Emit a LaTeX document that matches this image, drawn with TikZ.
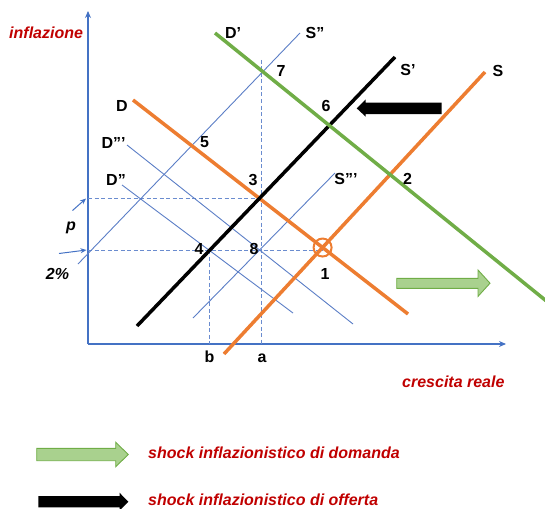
\documentclass[tikz,border=0pt]{standalone}
\usepackage{fontspec}
\setmainfont{Liberation Sans}
\usetikzlibrary{arrows.meta}
\definecolor{myorange}{HTML}{ED7D31}
\definecolor{mygreen}{HTML}{70AD47}
\definecolor{lightgreen}{HTML}{A9D18E}
\definecolor{axisblue}{HTML}{4472C4}
\definecolor{thinblue}{HTML}{5B7EC6}
\definecolor{dashblue}{HTML}{6A8CCF}
\definecolor{darkred}{HTML}{C00000}
\begin{document}
\begin{tikzpicture}[x=1pt,y=-1pt,
  thickline/.style={line width=3.5pt},
  thinline/.style={line width=0.9pt, thinblue},
  axisline/.style={line width=1.1pt, axisblue, -{Stealth[length=7pt,width=6pt]}},
  dashline/.style={line width=0.8pt, dashblue, dash pattern=on 4pt off 2.5pt},
  lbl/.style={font=\fontsize{16}{19}\selectfont\bfseries, inner sep=0pt, text=black},
  ilbl/.style={font=\fontsize{16}{19}\selectfont\bfseries\itshape, inner sep=0pt, text=black},
  redtxt/.style={font=\fontsize{16}{19}\selectfont\bfseries\itshape, inner sep=0pt, text=darkred, anchor=west},
  smallarrow/.style={line width=1pt, axisblue, -{Stealth[length=6pt,width=5pt]}}
]
\useasboundingbox (0,0) rectangle (545,508);
\clip (0,0) rectangle (545,508);

% axes
\coordinate (O) at (88,344);
\coordinate (Ytop) at (88,11);
\coordinate (Xend) at (506,344);
\draw[axisline] (O) -- (Ytop);
\draw[axisline] (O) -- (Xend);

% curve end points
\coordinate (Da) at (133,100);   \coordinate (Db) at (408,314);
\coordinate (Sa) at (224,354);   \coordinate (Sb) at (485,72);
\coordinate (S1a) at (137,326);  \coordinate (S1b) at (395,57);
\coordinate (D1a) at (215,33);   \coordinate (D1b) at (555,308);
\coordinate (S2a) at (78,264);   \coordinate (S2b) at (300,33);
\coordinate (S3a) at (193,318);  \coordinate (S3b) at (335,173);
\coordinate (D2a) at (122,185);  \coordinate (D2b) at (293,313);
\coordinate (D3a) at (127,145);  \coordinate (D3b) at (353,324);

% intersections
\coordinate (P1) at (intersection of Da--Db and Sa--Sb);
\coordinate (P3) at (intersection of Da--Db and S1a--S1b);
\coordinate (P4) at (intersection of D2a--D2b and S1a--S1b);
\coordinate (P8) at (intersection of D3a--D3b and S3a--S3b);
\coordinate (P7) at (intersection of D1a--D1b and S2a--S2b);
\coordinate (Atop) at (261,60);

% dashed guide lines
\draw[dashline] (O |- P3) -- (P3);
\draw[dashline] (O |- P8) -- (P1 |- P8);
\draw[dashline] (Atop) -- (Atop |- O);
\draw[dashline] (P4) -- (P4 |- O);

% thin blue curves
\draw[thinline] (S2a) -- (S2b);
\draw[thinline] (S3a) -- (S3b);
\draw[thinline] (D2a) -- (D2b);
\draw[thinline] (D3a) -- (D3b);

% thick curves
\draw[thickline, myorange] (Da) -- (Db);
\draw[thickline, myorange] (Sa) -- (Sb);
\draw[thickline, black] (S1a) -- (S1b);
\draw[thickline, mygreen] (D1a) -- (D1b);

% circle at equilibrium 1
\draw[myorange, line width=2pt] (P1) circle[radius=9pt];

% small arrows for p and 2%
\coordinate (pA) at (72.5,210.5);  \coordinate (pB) at (86,198.5);
\coordinate (qA) at (59,253.5);    \coordinate (qB) at (86.5,250);
\draw[smallarrow] (pA) -- (pB);
\draw[smallarrow] (qA) -- (qB);

% block arrows
\fill[black] (441.7,102.7) -- (365.7,102.7) -- (365.7,99.3) -- (356.7,108.3)
  -- (365.7,116.7) -- (365.7,114) -- (441.7,114) -- cycle;
\filldraw[fill=lightgreen, draw=mygreen, line width=0.9pt]
  (396.7,278.3) -- (478,278.3) -- (478,270) -- (490,283.2) -- (478,296.4)
  -- (478,288.3) -- (396.7,288.3) -- cycle;
\filldraw[fill=lightgreen, draw=mygreen, line width=0.9pt]
  (36.7,448.3) -- (115.7,448.3) -- (115.7,442.3) -- (128.3,454.5) -- (115.7,466.7)
  -- (115.7,460.7) -- (36.7,460.7) -- cycle;
\fill[black] (38.3,496) -- (119.5,496) -- (119.5,492.7) -- (128.3,501.7) -- (119.5,510.7)
  -- (119.5,507.4) -- (38.3,507.4) -- cycle;

% curve labels
\node[lbl] (lD1) at (233,32.5) {D’};
\node[lbl] (lS2) at (315,33) {S”};
\node[lbl] (l7) at (281,70.5) {7};
\node[lbl] (lS1) at (408,70) {S’};
\node[lbl] (lS) at (498,70.5) {S};
\node[lbl] (l6) at (326,106) {6};
\node[lbl] (lD) at (122,105.5) {D};
\node[lbl] (l5) at (204.5,142.5) {5};
\node[lbl] (lD3) at (113.5,142.5) {D”’};
\node[lbl] (l3) at (253,180) {3};
\node[lbl] (lD2) at (116,180) {D”};
\node[lbl] (lS3) at (346,179) {S”’};
\node[lbl] (l2) at (407.5,179) {2};
\node[ilbl] (lp) at (71,228) {p};
\node[ilbl] (l2p) at (57.5,273.5) {2\%};
\node[lbl] (l4) at (199,248.5) {4};
\node[lbl] (l8) at (254,248.5) {8};
\node[lbl] (l1) at (325,273.5) {1};
\node[lbl] (lb) at (209.5,357) {b};
\node[lbl] (la) at (262,358.5) {a};

% red texts
\node[redtxt] (tinfl) at (9,32.5) {inflazione};
\node[redtxt] (tcresc) at (402,382) {crescita reale};
\node[redtxt] (tdom) at (148,452.5) {shock inflazionistico di domanda};
\node[redtxt] (toff) at (148,500) {shock inflazionistico di offerta};
\end{tikzpicture}
\end{document}
